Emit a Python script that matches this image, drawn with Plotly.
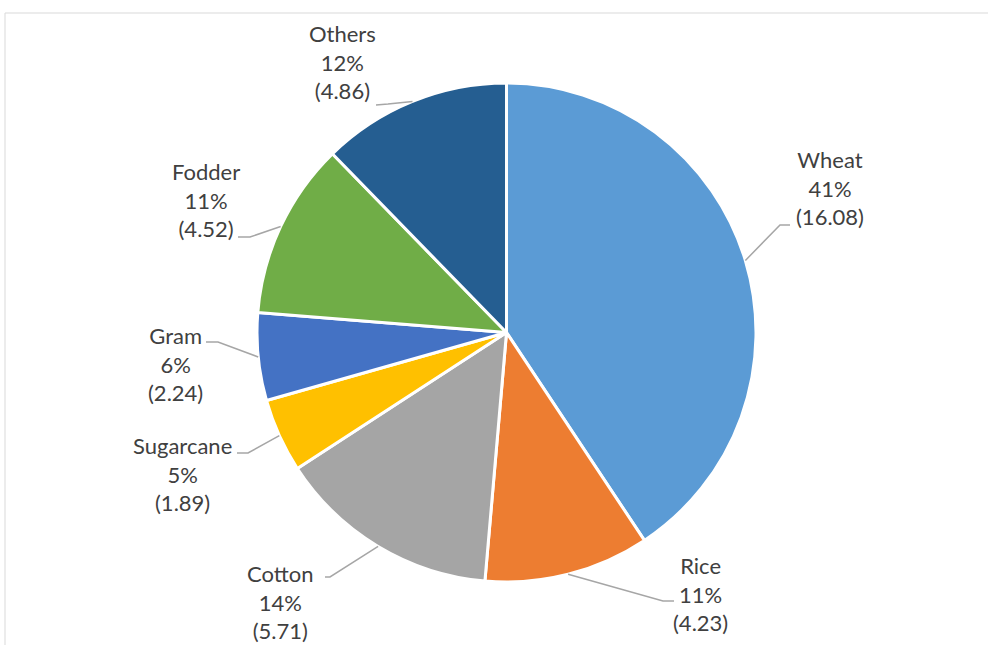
import math
import plotly.graph_objects as go

# Crop area shares (values shown in brackets on each label)
crops = ["Wheat", "Rice", "Cotton", "Sugarcane", "Gram", "Fodder", "Others"]
values = [16.08, 4.23, 5.71, 1.89, 2.24, 4.52, 4.86]
colors = ["#5B9BD5", "#ED7D31", "#A5A5A5", "#FFC000", "#4472C4", "#70AD47", "#255E91"]

# Page geometry in pixels
W, H = 988, 645
CX, CY, R = 506.5, 332.5, 249.5

# Label placement (pixel centres) and leader-line elbow / end points
label_xy = [(830, 188), (700, 594), (280, 602), (182, 474), (175, 364), (206, 200), (342, 62)]
leader_elbow = [(780, 225), (663, 601), (330, 577), (248, 453), (218, 342), (250, 237), (388, 104)]
leader_end = [(790, 225), (674, 601), (325, 577), (237, 453), (206, 342), (238, 237), (376, 105)]


def px(x):
    return x / W


def py(y):
    return 1 - y / H


total = sum(values)

fig = go.Figure(
    go.Pie(
        labels=crops,
        values=values,
        sort=False,
        direction="clockwise",
        rotation=0,
        marker=dict(colors=colors, line=dict(color="white", width=3)),
        textinfo="none",
        hoverinfo="label+percent+value",
        domain=dict(x=[px(CX - R), px(CX + R)], y=[py(CY + R), py(CY - R)]),
        showlegend=False,
    )
)

shapes = [
    # chart-area frame
    dict(type="rect", xref="paper", yref="paper",
         x0=px(5), x1=px(W + 5), y0=py(H + 5), y1=py(13),
         line=dict(color="#D9D9D9", width=1), fillcolor="rgba(0,0,0,0)", layer="below"),
]
annotations = []

cum = 0.0
for name, v, (lx, ly), (ex, ey), (tx, ty) in zip(crops, values, label_xy, leader_elbow, leader_end):
    mid = (cum + v / 2) / total * 2 * math.pi
    cum += v
    # point on the pie rim at the slice's mid-angle (clockwise from 12 o'clock)
    rx = CX + R * math.sin(mid)
    ry = CY - R * math.cos(mid)
    path = f"M {px(rx)} {py(ry)} L {px(ex)} {py(ey)} L {px(tx)} {py(ty)}"
    shapes.append(dict(type="path", xref="paper", yref="paper", path=path,
                       line=dict(color="#A6A6A6", width=1.5), layer="above"))
    pct = round(v / total * 100)
    annotations.append(dict(
        x=px(lx), y=py(ly), xref="paper", yref="paper",
        text=f"{name}<br>{pct}%<br>({v:.2f})",
        showarrow=False, xanchor="center", yanchor="middle", align="center",
        font=dict(family="Lato, 'Open Sans', sans-serif", size=22, color="#404040"),
    ))

fig.update_layout(
    width=W, height=H,
    margin=dict(l=0, r=0, t=0, b=0),
    paper_bgcolor="white",
    plot_bgcolor="white",
    shapes=shapes,
    annotations=annotations,
)

fig.write_html("out.html")
